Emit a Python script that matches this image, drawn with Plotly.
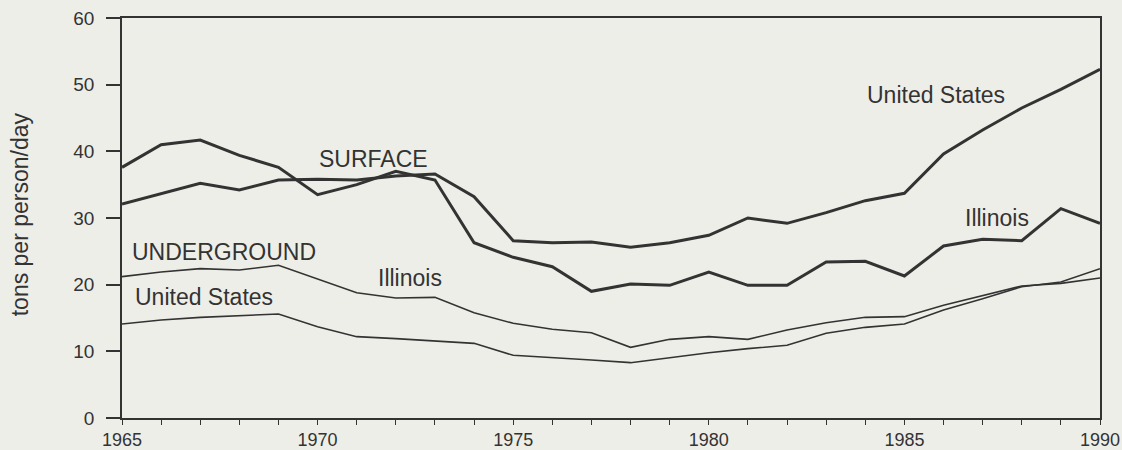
import plotly.graph_objects as go

years = list(range(1965, 1991))

surface_us = [32.1, 33.7, 35.2, 34.2, 35.7, 35.8, 35.7, 36.3, 36.6, 33.2,
              26.6, 26.3, 26.4, 25.6, 26.3, 27.4, 30.0, 29.2, 30.8, 32.6,
              33.7, 39.6, 43.2, 46.5, 49.3, 52.3]
surface_il = [37.6, 41.0, 41.7, 39.4, 37.6, 33.5, 35.0, 37.0, 35.7, 26.3,
              24.1, 22.7, 19.0, 20.1, 19.9, 21.9, 19.9, 19.9, 23.4, 23.5,
              21.3, 25.8, 26.8, 26.6, 31.4, 29.2]
under_il = [21.2, 21.9, 22.4, 22.2, 22.9, 20.9, 18.8, 18.0, 18.1, 15.8,
            14.2, 13.3, 12.8, 10.6, 11.8, 12.2, 11.8, 13.2, 14.3, 15.1,
            15.2, 16.9, 18.4, 19.8, 20.2, 21.0]
under_us = [14.1, 14.7, 15.1, 15.4, 15.6, 13.7, 12.2, 11.9, 11.6, 11.2,
            9.4, 9.1, 8.7, 8.3, 9.1, 9.8, 10.4, 10.9, 12.7, 13.6,
            14.1, 16.2, 17.9, 19.7, 20.4, 22.4]

y_ticks = [0, 10, 20, 30, 40, 50, 60]
x_ticks = [1965, 1970, 1975, 1980, 1985, 1990]

labels = ["SURFACE", "UNDERGROUND", "United States", "Illinois", "United States", "Illinois"]
label_x = [1971.42, 1967.6, 1967.1, 1972.36, 1985.8, 1987.36]
label_y = [38.85, 24.95, 18.2, 21.05, 48.45, 29.95]

ink = "#333333"
bg = "#eeeee8"
font = "Liberation Sans, Arial, Helvetica, sans-serif"

fig = go.Figure()
for ys, w in [(surface_us, 3), (surface_il, 3), (under_il, 1.6), (under_us, 1.6)]:
    fig.add_trace(go.Scatter(x=years, y=ys, mode="lines",
                             line=dict(color=ink, width=w), showlegend=False,
                             hoverinfo="skip"))

for t, xv, yv in zip(labels, label_x, label_y):
    fig.add_annotation(x=xv, y=yv, text=t, showarrow=False,
                       font=dict(family=font, size=23, color=ink),
                       xanchor="center", yanchor="middle")

fig.add_annotation(xref="paper", yref="paper", x=-0.104, y=0.51,
                   text="tons per person/day", textangle=-90, showarrow=False,
                   font=dict(family=font, size=23, color=ink),
                   xanchor="center", yanchor="middle")

fig.update_layout(
    width=1122, height=450,
    margin=dict(l=122, r=22, t=18, b=32, autoexpand=False),
    paper_bgcolor=bg, plot_bgcolor=bg,
    font=dict(family=font, color=ink),
    xaxis=dict(range=[1965, 1990], tickvals=x_ticks, ticktext=[str(v) for v in x_ticks],
               automargin=False,
               showgrid=False, zeroline=False, showline=True, linecolor=ink,
               linewidth=1.5, mirror=True, ticks="outside", ticklen=5,
               tickcolor=ink, tickwidth=1.3,
               minor=dict(dtick=1, tick0=1965, ticks="outside", ticklen=5,
                          tickcolor=ink, tickwidth=1.3, showgrid=False),
               tickfont=dict(family=font, size=18, color=ink),
               ticklabelstandoff=0),
    yaxis=dict(range=[0, 60], tickvals=y_ticks, showgrid=False, zeroline=False,
               automargin=False,
               showline=True, linecolor=ink, linewidth=1.5, mirror=True,
               ticks="outside", ticklen=14, tickcolor=ink, tickwidth=1.5,
               tickfont=dict(family=font, size=19, color=ink),
               ticklabelstandoff=8),
)

fig.write_html("out.html", config={"displayModeBar": False},
               post_script="document.body.style.margin='0';document.body.style.padding='0';")
